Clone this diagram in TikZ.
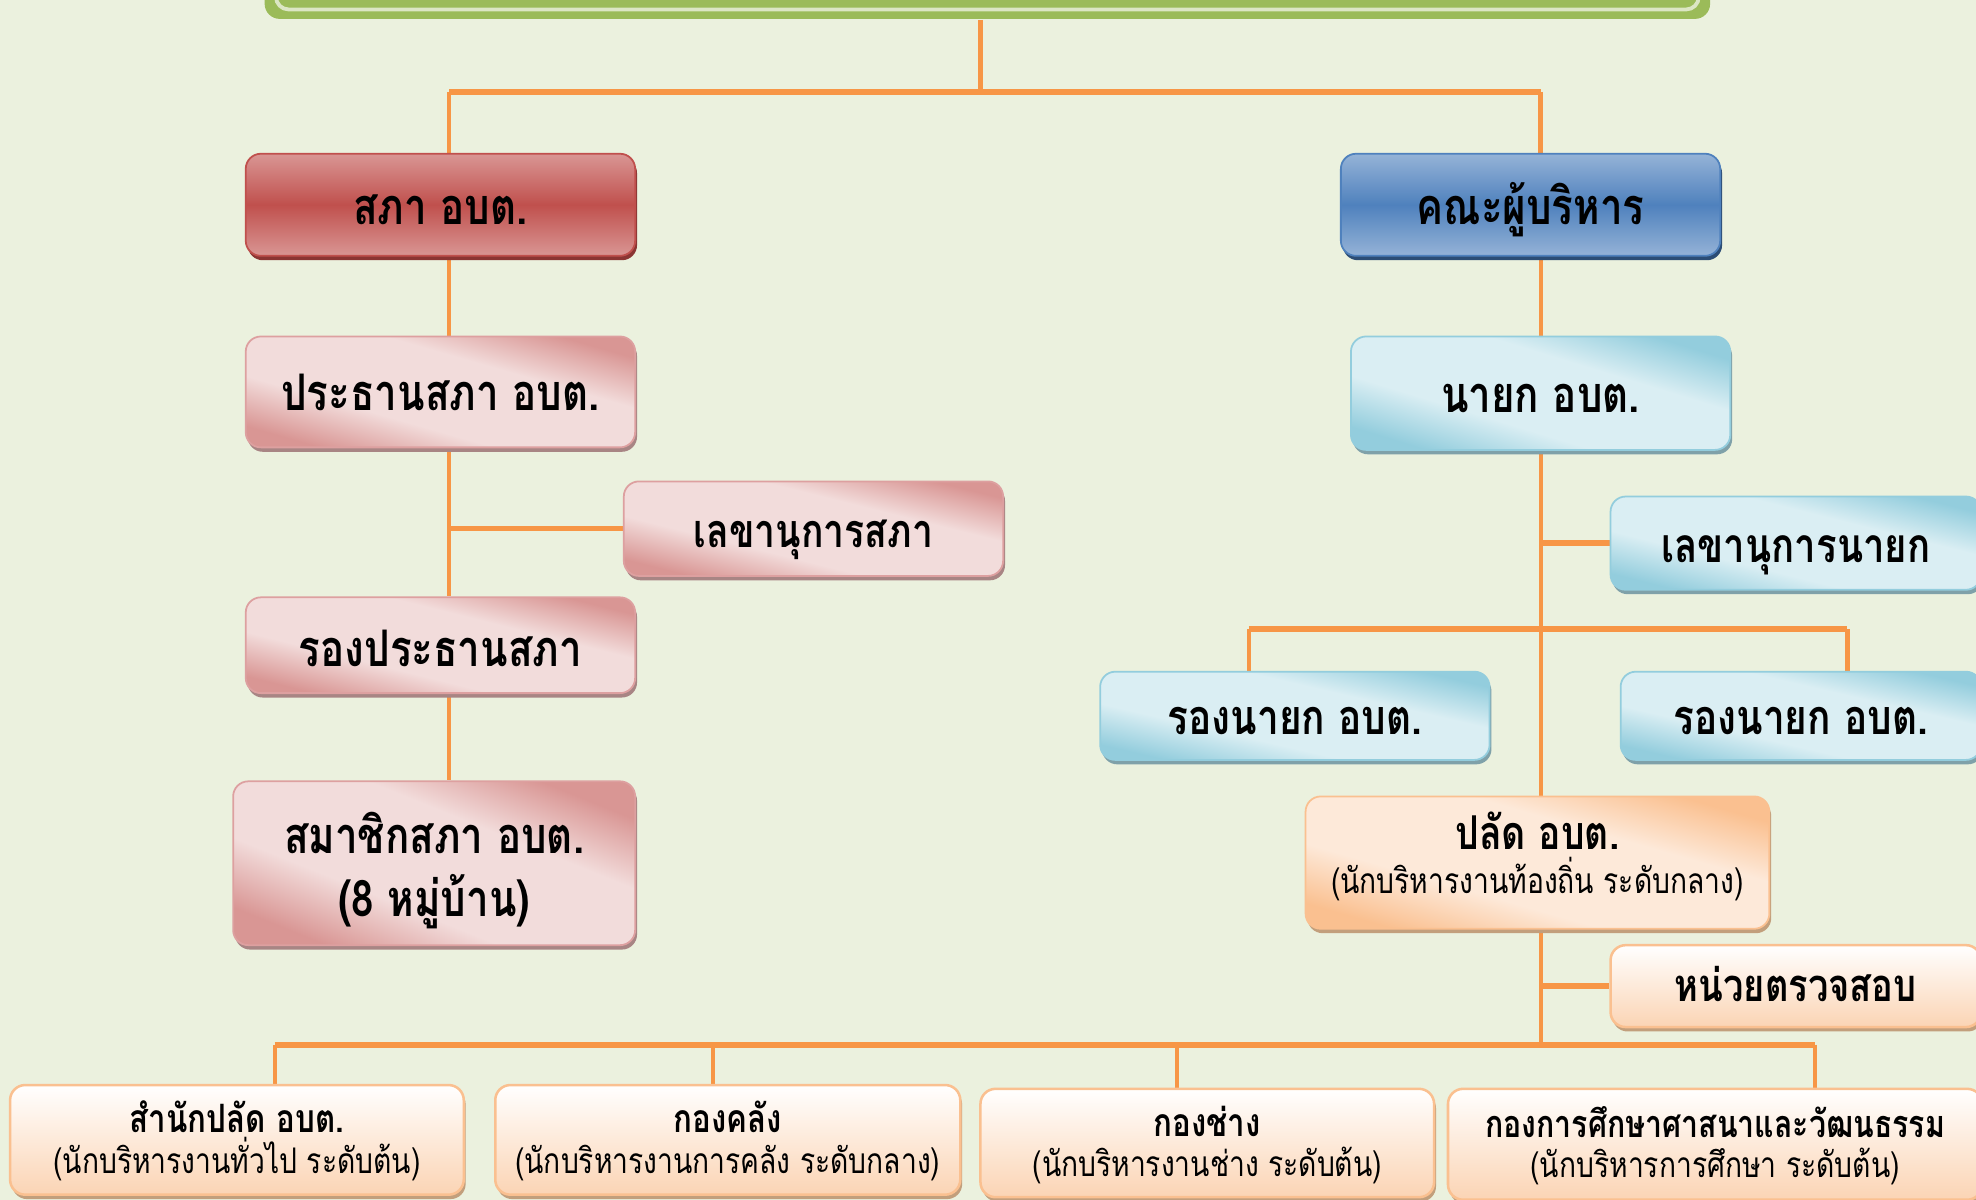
\documentclass[tikz,border=0pt]{standalone}
\usepackage{fontspec}
\newfontfamily\thai[Script=Thai,FakeStretch=0.8]{Loma}
\usetikzlibrary{shadows,calc,backgrounds}
\definecolor{bg}{HTML}{EBF1DE}
\definecolor{grn}{HTML}{9BBB59}
\definecolor{grnl}{HTML}{DCE6C4}
\definecolor{ln}{HTML}{F79646}
\definecolor{redm}{HTML}{C0504D}
\definecolor{redl}{HTML}{D99694}
\definecolor{redd}{HTML}{8B3533}
\definecolor{pinkl}{HTML}{F2DCDB}
\definecolor{pinkd}{HTML}{D99694}
\definecolor{pinkb}{HTML}{DDA0A0}
\definecolor{pinks}{HTML}{A88584}
\definecolor{bluem}{HTML}{4F81BD}
\definecolor{bluel}{HTML}{95B3D7}
\definecolor{blued}{HTML}{2C4D75}
\definecolor{cyl}{HTML}{DAEEF3}
\definecolor{cyd}{HTML}{93CDDD}
\definecolor{cys}{HTML}{7FA1A9}
\definecolor{orl}{HTML}{FDE9D9}
\definecolor{ord}{HTML}{FAC090}
\definecolor{ors}{HTML}{C29F7C}
\definecolor{orb}{HTML}{FBD4B4}
\pgfdeclareverticalshading{pinkdiag}{100bp}{color(0bp)=(pinkd); color(25bp)=(pinkd); color(39bp)=(pinkl); color(61bp)=(pinkl); color(75bp)=(pinkd); color(100bp)=(pinkd)}
\pgfdeclareverticalshading{cydiag}{100bp}{color(0bp)=(cyd); color(25bp)=(cyd); color(39bp)=(cyl); color(61bp)=(cyl); color(75bp)=(cyd); color(100bp)=(cyd)}
\pgfdeclareverticalshading{ordiag}{100bp}{color(0bp)=(ord); color(25bp)=(ord); color(39bp)=(orl); color(61bp)=(orl); color(75bp)=(ord); color(100bp)=(ord)}
\newcommand\hdline[2][31]{{\fontsize{#1}{32}\selectfont\bfseries\rule{0pt}{36pt}#2}}
\newcommand\sbline[1]{{\rule[-15pt]{0pt}{15pt}#1}}
\begin{document}
\begin{tikzpicture}[x=1pt,y=-1pt,
  box/.style={rounded corners=12pt, line width=1.4pt, inner sep=0pt, align=center,
    font=\thai\bfseries\fontsize{40}{50}\selectfont},
  one/.style={text height=34pt, text depth=4pt},
  shd/.style={drop shadow={shadow xshift=1.5pt, shadow yshift=-3.5pt, fill=#1, opacity=1}},
  diag/.style={shade, shading=#1, shading angle=-16},
  redbox/.style={box, one, draw=redm, top color=redl, bottom color=redl, middle color=redm, shd=redd},
  bluebox/.style={box, one, draw=bluem, top color=bluel, bottom color=bluel, middle color=bluem, shd=blued},
  pinkbox/.style={box, draw=pinkb, diag=pinkdiag, shd=pinks},
  cybox/.style={box, one, draw=cyd, diag=cydiag, shd=cys},
  orbox/.style={box, draw=ord, diag=ordiag, shd=ors},
  wbox/.style={box, draw=ord, line width=2pt, top color=white, bottom color=orb, shd=ors,
    font=\thai\fontsize{28}{32}\selectfont},
  conn/.style={draw=ln, line width=3.5pt},
  bus/.style={draw=ln, line width=5pt},
]
\clip (0,0) rectangle (1568,952);
\begin{scope}[on background layer]
\fill[bg] (0,0) rectangle (1568,952);
\end{scope}

% top box
\node[box, fill=grn, draw=none, minimum width=1147pt, minimum height=110pt] (top) at (783.5,-40) {};
\draw[grnl, line width=3pt, rounded corners=10pt] (219,-60) -- (219,7.5) -- (1348,7.5) -- (1348,-60);

% left column
\node[redbox, minimum width=309pt, minimum height=81pt, text height=36pt] (sabha) at (349.5,162.5) {สภา อบต.};
\node[pinkbox, one, minimum width=309pt, minimum height=88pt] (prathan) at (349.5,311) {ประธานสภา อบต.};
\node[pinkbox, one, shading angle=-14, minimum width=301pt, minimum height=75pt, font=\thai\bfseries\fontsize{37}{50}\selectfont] (lekhas) at (645.5,419.5) {เลขานุการสภา};
\node[pinkbox, one, shading angle=-14, minimum width=309pt, minimum height=76pt, text height=38pt] (rongp) at (349.5,512) {รองประธานสภา};
\node[pinkbox, shading angle=-22, minimum width=319pt, minimum height=130pt, font=\thai\bfseries\fontsize{40}{50}\selectfont] (samachik) at (344.5,685)
  {\rule{0pt}{50pt}สมาชิกสภา อบต.\\\rule[-16pt]{0pt}{16pt}(8 หมู่บ้าน)};

% right column
\node[bluebox, minimum width=301pt, minimum height=81pt, text height=36pt] (khana) at (1214.5,162.5) {คณะผู้บริหาร};
\node[cybox, shading angle=-17, minimum width=301pt, minimum height=90pt] (nayok) at (1222.5,312) {นายก อบต.};
\node[cybox, shading angle=-14, minimum width=294pt, minimum height=74pt, font=\thai\bfseries\fontsize{38}{50}\selectfont] (lekhan) at (1425,431) {เลขานุการนายก};
\node[cybox, shading angle=-13, minimum width=309pt, minimum height=70pt, font=\thai\bfseries\fontsize{38.5}{50}\selectfont] (rong1) at (1027.5,568) {รองนายก อบต.};
\node[cybox, shading angle=-13, minimum width=286pt, minimum height=70pt, font=\thai\bfseries\fontsize{38.5}{50}\selectfont] (rong2) at (1429,568) {รองนายก อบต.};
\node[orbox, minimum width=368pt, minimum height=105pt, font=\thai\fontsize{28}{35}\selectfont] (palad) at (1220,684.5)
  {{\fontsize{37}{35}\selectfont\bfseries\rule{0pt}{40pt}ปลัด อบต.}\\\rule[-26pt]{0pt}{26pt}(นักบริหารงานท้องถิ่น ระดับกลาง)};
\node[wbox, minimum width=294pt, minimum height=65pt, text height=29pt, text depth=4pt, font=\thai\bfseries\fontsize{36}{40}\selectfont] (nuai) at (1425,782.5) {หน่วยตรวจสอบ};

% bottom row
\node[wbox, minimum width=360pt, minimum height=87pt] (b1) at (188,904.5) {\hdline{สำนักปลัด อบต.}\\\sbline{(นักบริหารงานทั่วไป ระดับต้น)}};
\node[wbox, minimum width=369pt, minimum height=87pt] (b2) at (577.5,904.5) {\hdline{กองคลัง}\\\sbline{(นักบริหารงานการคลัง ระดับกลาง)}};
\node[wbox, minimum width=360pt, minimum height=86pt] (b3) at (958,907) {\hdline{กองช่าง}\\\sbline{(นักบริหารงานช่าง ระดับต้น)}};
\node[wbox, minimum width=424pt, minimum height=88pt] (b4) at (1361,908) {\hdline[30]{กองการศึกษาศาสนาและวัฒนธรรม}\\\sbline{(นักบริหารการศึกษา ระดับต้น)}};

% junction coordinates
\coordinate (j0) at (778,73);
\coordinate (jl) at (356.5,73);
\coordinate (jr) at (1222.5,73);
\coordinate (cl) at (356.5,0);
\coordinate (cr) at (1223,0);
\coordinate (jv1) at (991,499);
\coordinate (jv2) at (1466,499);
\coordinate (jb1) at (218,829);
\coordinate (jb2) at (566,829);
\coordinate (jb3) at (934,829);
\coordinate (jb4) at (1440,829);
\coordinate (jbc) at (1223,829);

\begin{scope}[on background layer]
\draw[conn] (top.south -| j0) -- (j0);
\draw[bus] (jl) -- (jr);
\draw[conn] (jl) -- (jl |- sabha.north);
\draw[conn] (jr) -- (jr |- khana.north);
% left spine
\draw[conn] (cl |- sabha.south) -- (cl |- prathan.north);
\draw[conn] (cl |- prathan.south) -- (cl |- rongp.north);
\draw[conn] (cl |- lekhas.west) -- (lekhas.west);
\draw[conn] (cl |- rongp.south) -- (cl |- samachik.north);
% right spine
\draw[conn] (cr |- khana.south) -- (cr |- nayok.north);
\draw[conn] (cr |- nayok.south) -- (cr |- palad.north);
\draw[bus] (cr |- lekhan.west) -- (lekhan.west);
\draw[bus] (jv1) -- (jv2);
\draw[conn] (jv1) -- (jv1 |- rong1.north);
\draw[conn] (jv2) -- (jv2 |- rong2.north);
\draw[conn] (cr |- palad.south) -- (jbc);
\draw[bus] (cr |- nuai.west) -- (nuai.west);
% bottom bus
\draw[bus] (jb1) -- (jb4);
\draw[conn] (jb1) -- (jb1 |- b1.north);
\draw[conn] (jb2) -- (jb2 |- b2.north);
\draw[conn] (jb3) -- (jb3 |- b3.north);
\draw[conn] (jb4) -- (jb4 |- b4.north);
\end{scope}
\end{tikzpicture}
\end{document}
